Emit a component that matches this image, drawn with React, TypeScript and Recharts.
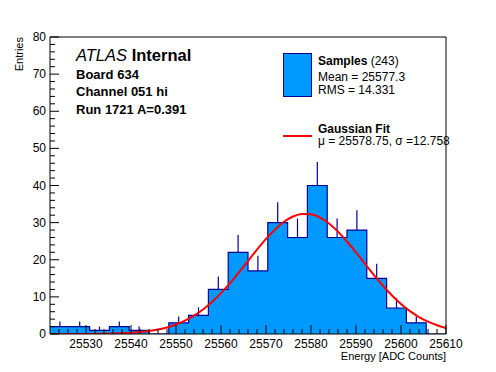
import { ComposedChart, Area, Line, Scatter, ErrorBar, XAxis, YAxis } from 'recharts';

// histogram: 20 bins of 4.4 ADC counts
const binLow = [25522, 25526.4, 25530.8, 25535.2, 25539.6, 25544, 25548.4, 25552.8, 25557.2, 25561.6,
  25566, 25570.4, 25574.8, 25579.2, 25583.6, 25588, 25592.4, 25596.8, 25601.2, 25605.6];
const binHigh = 25610;
const counts = [2, 2, 1, 2, 1, 0, 3, 5, 12, 22, 17, 30, 26, 40, 26, 28, 15, 7, 3, 0];
const errUp = [1.4, 1.4, 1, 1.4, 1, 0, 1.7, 2.2, 3.5, 4.7, 4.1, 5.5, 5.1, 6.3, 5.1, 5.3, 3.9, 2.6, 1.7, 0];

// gaussian fit curve
const fitX = [25522, 25524, 25526, 25528, 25530, 25532, 25534, 25536, 25538, 25540, 25542, 25544, 25546,
  25548, 25550, 25552, 25554, 25556, 25558, 25560, 25562, 25564, 25566, 25568, 25570, 25572, 25574, 25576,
  25578, 25580, 25582, 25584, 25586, 25588, 25590, 25592, 25594, 25596, 25598, 25600, 25602, 25604, 25606,
  25608, 25610];
const fitY = [0, 0, 0.01, 0.01, 0.02, 0.04, 0.07, 0.12, 0.2, 0.32, 0.51, 0.79, 1.2,
  1.77, 2.56, 3.6, 4.94, 6.61, 8.63, 11.0, 13.68, 16.61, 19.66, 22.72, 25.61, 28.17, 30.23, 31.65,
  32.34, 32.25, 31.37, 29.77, 27.57, 24.91, 21.96, 18.9, 15.86, 12.99, 10.38, 8.09, 6.16, 4.57, 3.31,
  2.34, 1.61];

const xMajor = [25530, 25540, 25550, 25560, 25570, 25580, 25590, 25600, 25610];
const yMajor = [0, 10, 20, 30, 40, 50, 60, 70, 80];

const xTicks: number[] = [];
for (let v = 25524; v <= 25610; v += 2) xTicks.push(v);
const yTicks: number[] = [];
for (let v = 0; v <= 80; v += 2) yTicks.push(v);

const histData = [
  ...binLow.map((x, i) => ({ x, y: counts[i] })),
  { x: binHigh, y: counts[counts.length - 1] },
];
const errData = binLow
  .map((x, i) => ({ x: x + 2.2, y: counts[i], err: [0, errUp[i]] }))
  .filter((d) => d.y > 0);
const fitData = fitX.map((x, i) => ({ x, y: fitY[i] }));

const FONT = '"Liberation Sans", Arial, Helvetica, sans-serif';
const HIST_FILL = '#0099ff';
const HIST_LINE = '#000099';

const XTick = ({ x, y, payload }: any) => {
  const major = xMajor.includes(payload.value);
  return (
    <g>
      <line x1={x} x2={x} y1={y} y2={y - (major ? 9 : 5)} stroke="#000" />
      {major && (
        <text x={x} y={y + 13.5} textAnchor="middle" fontSize={12} fontFamily={FONT} fill="#000">
          {payload.value}
        </text>
      )}
    </g>
  );
};

const YTick = ({ x, y, payload }: any) => {
  const major = yMajor.includes(payload.value);
  return (
    <g>
      <line x1={x} x2={x + (major ? 9 : 5)} y1={y} y2={y} stroke="#000" />
      {major && (
        <text x={x - 4} y={y + 4} textAnchor="end" fontSize={12} fontFamily={FONT} fill="#000">
          {payload.value}
        </text>
      )}
    </g>
  );
};

export default function App() {
  return (
    <div style={{ position: 'absolute', left: 0, top: 0, width: 496, height: 372, background: '#fff' }}>
      <ComposedChart width={496} height={372} margin={{ top: 36, right: 49, bottom: 37, left: 49 }}>
        <Area
          data={histData}
          dataKey="y"
          type="stepAfter"
          stroke={HIST_LINE}
          strokeWidth={1.2}
          fill={HIST_FILL}
          fillOpacity={1}
          isAnimationActive={false}
        />
        <Scatter data={errData} dataKey="y" shape={() => <g />} isAnimationActive={false}>
          <ErrorBar dataKey="err" direction="y" width={0} stroke={HIST_LINE} strokeWidth={1.2} />
        </Scatter>
        <Line
          data={fitData}
          dataKey="y"
          type="monotone"
          stroke="#ff0000"
          strokeWidth={2}
          dot={false}
          isAnimationActive={false}
        />
        <XAxis
          dataKey="x"
          type="number"
          domain={[25522, 25610]}
          allowDataOverflow
          ticks={xTicks}
          interval={0}
          height={1}
          tickSize={0}
          tickMargin={0}
          tickLine={false}
          tick={<XTick />}
          axisLine={{ stroke: '#000' }}
        />
        <YAxis
          type="number"
          domain={[0, 80]}
          allowDataOverflow
          ticks={yTicks}
          interval={0}
          width={1}
          tickSize={0}
          tickMargin={0}
          tickLine={false}
          tick={<YTick />}
          axisLine={{ stroke: '#000' }}
        />
        <XAxis
          xAxisId="top"
          orientation="top"
          type="number"
          domain={[25522, 25610]}
          height={1}
          tick={false}
          tickLine={false}
          axisLine={{ stroke: '#000' }}
        />
        <YAxis
          yAxisId="right"
          orientation="right"
          type="number"
          domain={[0, 80]}
          width={1}
          tick={false}
          tickLine={false}
          axisLine={{ stroke: '#000' }}
        />
      </ComposedChart>
      <svg
        width={496}
        height={372}
        style={{ position: 'absolute', left: 0, top: 0, pointerEvents: 'none' }}
        fontFamily={FONT}
      >
        <text x={76} y={61} fontSize={16.5} fill="#000">
          <tspan fontStyle="italic">ATLAS</tspan>
          <tspan fontWeight="bold"> Internal</tspan>
        </text>
        <text x={76} y={78.5} fontSize={13} fontWeight="bold" fill="#000">Board 634</text>
        <text x={76} y={96} fontSize={13} fontWeight="bold" fill="#000">Channel 051 hi</text>
        <text x={76} y={113.5} fontSize={13} fontWeight="bold" fill="#000">Run 1721 A=0.391</text>

        <rect x={283.5} y={53.5} width={28} height={43} fill={HIST_FILL} stroke={HIST_LINE} />
        <text x={318} y={65} fontSize={12} fill="#000">
          <tspan fontWeight="bold">Samples</tspan>
          <tspan> (243)</tspan>
        </text>
        <text x={318} y={81} fontSize={12} fill="#000">Mean = 25577.3</text>
        <text x={318} y={93.5} fontSize={12} fill="#000">RMS = 14.331</text>
        <line x1={283} x2={312} y1={136} y2={136} stroke="#ff0000" strokeWidth={2} />
        <text x={318} y={132.5} fontSize={12} fontWeight="bold" fill="#000">Gaussian Fit</text>
        <text x={318} y={145} fontSize={12} fill="#000">μ = 25578.75, σ =12.758</text>

        <text x={446} y={359.5} fontSize={11} textAnchor="end" fill="#000">Energy [ADC Counts]</text>
        <text x={0} y={0} fontSize={11} textAnchor="end" fill="#000" transform="translate(23,37) rotate(-90)">
          Entries
        </text>
      </svg>
    </div>
  );
}
